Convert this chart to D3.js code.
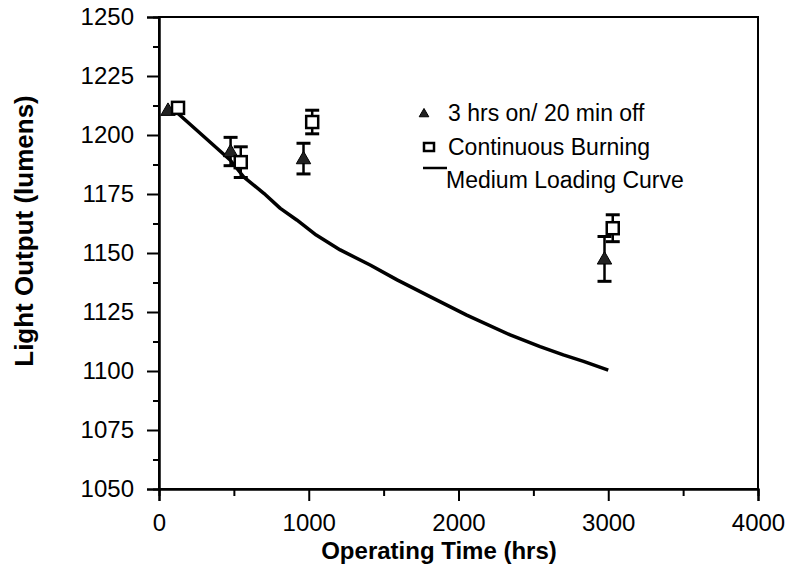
<!DOCTYPE html>
<html><head><meta charset="utf-8">
<script src="https://cdn.jsdelivr.net/npm/d3@7"></script>
<style>
html,body{margin:0;padding:0;background:#fff;}
text{font-family:"Liberation Sans",Arial,sans-serif;fill:#000;}
</style></head>
<body><svg id="c" width="792" height="578"></svg>
<script>
// Data
const xTicks = [0, 1000, 2000, 3000, 4000];
const yTicks = [1050, 1075, 1100, 1125, 1150, 1175, 1200, 1225, 1250];
const cycX = [60, 478, 965, 2975];
const cycY = [1210.5, 1193, 1190, 1147.5];
const cycErr = [0, 6, 6.5, 9.5];
const contX = [127, 546, 1023, 3030];
const contY = [1211.5, 1188.5, 1205.5, 1160.5];
const contErr = [0, 6.5, 5, 5.7];
const curveX = [125, 475, 565, 700, 810, 920, 1050, 1210, 1410, 1590, 1810, 2055, 2345, 2545, 2700, 2835, 3000];
const curveY = [1209.2, 1189.4, 1182.3, 1175.3, 1168.9, 1164.0, 1157.6, 1151.3, 1144.9, 1138.6, 1131.5, 1123.7, 1115.3, 1110.3, 1106.8, 1104.1, 1100.4];
const legendLabels = ["3 hrs on/ 20 min off", "Continuous Burning", "Medium Loading Curve"];

const svg = d3.select("#c");
const L = 159, R = 758, T = 17, B = 489;
const x = d3.scaleLinear().domain([0, 4000]).range([L, R]);
const y = d3.scaleLinear().domain([1050, 1250]).range([B, T]);
const fmt = d3.format("d");

// frame
svg.append("rect").attr("x", L).attr("y", T).attr("width", R - L).attr("height", B - T)
  .attr("fill", "none").attr("stroke", "#000").attr("stroke-width", 2);

// axes
const xAx = svg.append("g").attr("transform", `translate(0,${B})`)
  .call(d3.axisBottom(x).tickValues(xTicks).tickFormat(fmt).tickSize(12).tickPadding(13));
const xMinor = svg.append("g").attr("transform", `translate(0,${B})`)
  .call(d3.axisBottom(x).tickValues(d3.range(500, 4000, 1000)).tickSize(7).tickFormat(""));
const yAx = svg.append("g").attr("transform", `translate(${L},0)`)
  .call(d3.axisLeft(y).tickValues(yTicks).tickFormat(fmt).tickSize(12).tickPadding(13));
const yMinor = svg.append("g").attr("transform", `translate(${L},0)`)
  .call(d3.axisLeft(y).tickValues(d3.range(1062.5, 1250, 25)).tickSize(6).tickFormat(""));
[xAx, xMinor, yAx, yMinor].forEach(g => {
  g.select(".domain").attr("stroke", "#000").attr("stroke-width", 2);
  g.selectAll(".tick line").attr("stroke", "#000").attr("stroke-width", 2);
  g.selectAll(".tick text").attr("font-size", 24).attr("font-family", "Liberation Sans, Arial, sans-serif").attr("fill", "#000");
});

// axis titles
svg.append("text").attr("x", 439).attr("y", 559).attr("text-anchor", "middle")
  .attr("font-size", 24).attr("font-weight", "bold").text("Operating Time (hrs)");
svg.append("text").attr("transform", "translate(33,231) rotate(-90)").attr("text-anchor", "middle")
  .attr("font-size", 26).attr("font-weight", "bold").text("Light Output (lumens)");

// curve
const pts = curveX.map((d, i) => [d, curveY[i]]);
svg.append("path").datum(pts)
  .attr("d", d3.line().x(d => x(d[0])).y(d => y(d[1])))
  .attr("fill", "none").attr("stroke", "#000").attr("stroke-width", 3.5).attr("stroke-linejoin", "round");

// error bars
function errBars(xs, ys, es) {
  const g = svg.append("g").attr("stroke", "#000").attr("stroke-width", 2.5);
  xs.forEach((xv, i) => {
    if (!es[i]) return;
    const cx = x(xv), y1 = y(ys[i] + es[i]), y2 = y(ys[i] - es[i]);
    g.append("line").attr("x1", cx).attr("x2", cx).attr("y1", y1).attr("y2", y2);
    g.append("line").attr("x1", cx - 7).attr("x2", cx + 7).attr("y1", y1).attr("y2", y1).attr("stroke-width", 3);
    g.append("line").attr("x1", cx - 7).attr("x2", cx + 7).attr("y1", y2).attr("y2", y2).attr("stroke-width", 3);
  });
}
errBars(cycX, cycY, cycErr);
errBars(contX, contY, contErr);

// triangles
const tri = d3.symbol().type(d3.symbolTriangle).size(90);
svg.append("g").selectAll("path").data(cycX).join("path")
  .attr("d", tri).attr("transform", (d, i) => `translate(${x(d)},${y(cycY[i]) + 1})`)
  .attr("fill", "#222").attr("stroke", "#000").attr("stroke-width", 1);

// squares
svg.append("g").selectAll("rect").data(contX).join("rect")
  .attr("x", d => x(d) - 6).attr("y", (d, i) => y(contY[i]) - 6)
  .attr("width", 12).attr("height", 12)
  .attr("fill", "#fff").attr("stroke", "#000").attr("stroke-width", 2.5);

// legend
const lg = svg.append("g");
const lx = 448, base = [121, 155, 188];
lg.append("path").attr("d", d3.symbol().type(d3.symbolTriangle).size(40))
  .attr("transform", `translate(424,${base[0] - 7})`).attr("fill", "#222").attr("stroke", "#000");
lg.append("rect").attr("x", 424).attr("y", base[1] - 12).attr("width", 10).attr("height", 8)
  .attr("fill", "#fff").attr("stroke", "#000").attr("stroke-width", 2.5);
lg.append("line").attr("x1", 423).attr("x2", 447).attr("y1", base[2] - 20).attr("y2", base[2] - 20)
  .attr("stroke", "#000").attr("stroke-width", 2.5);
legendLabels.forEach((t, i) => {
  lg.append("text").attr("x", i === 2 ? lx - 2 : lx).attr("y", base[i]).attr("font-size", 23).text(t);
});
</script></body></html>
